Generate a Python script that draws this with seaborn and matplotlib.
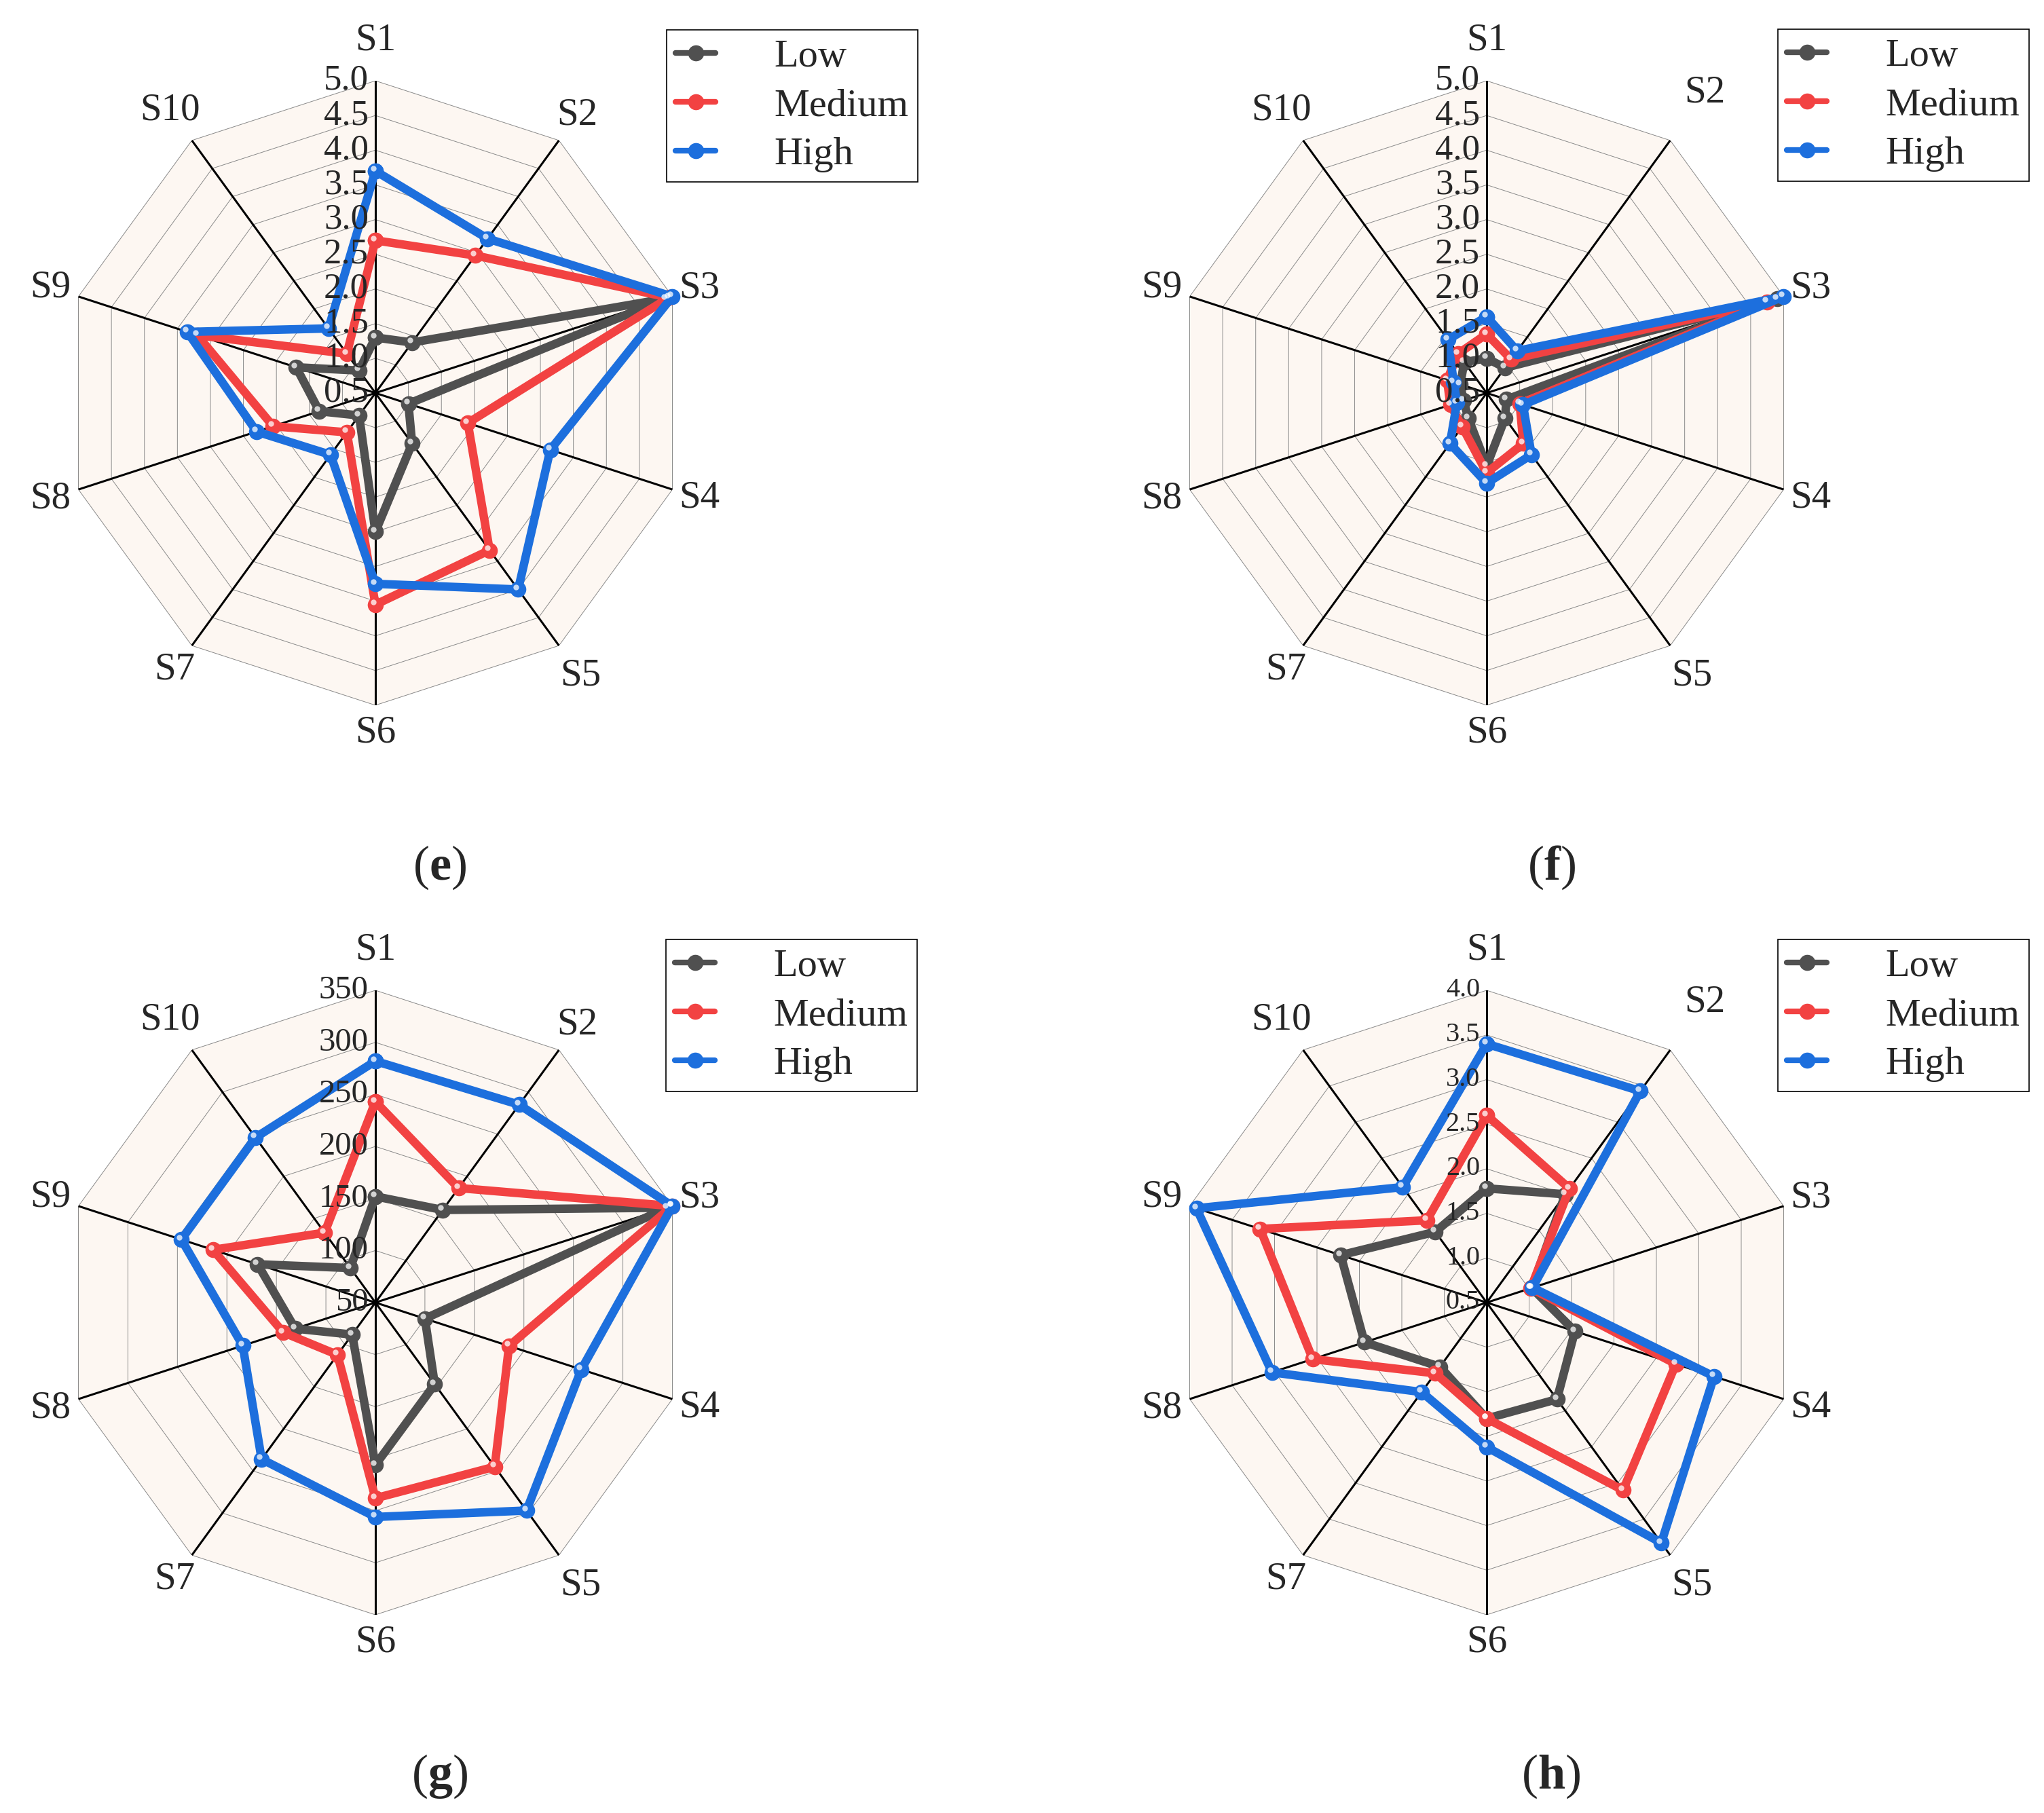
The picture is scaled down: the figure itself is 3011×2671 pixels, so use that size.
import numpy as np
import pandas as pd
import matplotlib
matplotlib.use("Agg")
import matplotlib.pyplot as plt
import matplotlib.transforms as mtransforms
from matplotlib.lines import Line2D
from matplotlib.legend_handler import HandlerTuple
import seaborn as sns

spokes = ["S1", "S2", "S3", "S4", "S5", "S6", "S7", "S8", "S9", "S10"]
levels = ["Low", "Medium", "High"]
colors = {"Low": "#505050", "Medium": "#F24242", "High": "#1D6FDD"}

# panel (e)
e_low = [1.3, 1.4, 4.9, 1.0, 1.4, 2.5, 0.9, 1.35, 1.7, 0.9]
e_med = [2.7, 2.95, 4.95, 1.9, 3.3, 3.55, 1.2, 2.05, 3.2, 1.2]
e_high = [3.7, 3.25, 5.0, 3.15, 4.0, 3.25, 1.6, 2.3, 3.35, 1.65]
e_ticks = [0.5, 1.0, 1.5, 2.0, 2.5, 3.0, 3.5, 4.0, 4.5, 5.0]

# panel (f)
f_low = [1.0, 0.95, 4.9, 0.8, 0.95, 1.55, 0.95, 0.85, 0.9, 1.05]
f_med = [1.35, 1.1, 4.75, 1.0, 1.4, 1.65, 1.1, 1.05, 1.1, 1.2]
f_high = [1.6, 1.25, 5.0, 1.05, 1.6, 1.8, 1.4, 0.95, 1.0, 1.45]
f_ticks = [0.5, 1.0, 1.5, 2.0, 2.5, 3.0, 3.5, 4.0, 4.5, 5.0]

# panel (g)
g_low = [152, 160, 345, 100, 147, 206, 88, 131, 169, 91]
g_med = [243, 186, 350, 185, 245, 238, 112, 143, 214, 133]
g_high = [282, 285, 350, 258, 297, 256, 236, 184, 246, 246]
g_ticks = [50, 100, 150, 200, 250, 300, 350]

# panel (h)
h_low = [1.78, 2.0, 1.03, 1.54, 1.84, 1.8, 1.39, 1.94, 2.22, 1.48]
h_med = [2.6, 2.08, 1.02, 2.73, 3.1, 1.8, 1.48, 2.55, 3.17, 1.64]
h_high = [3.4, 3.43, 1.04, 3.18, 3.83, 2.12, 1.74, 3.03, 3.92, 2.1]
h_ticks = [0.5, 1.0, 1.5, 2.0, 2.5, 3.0, 3.5, 4.0]

# how far out each spoke name sits, as a fraction of the outer radius
label_fac = [1.13, 1.10, 1.09, 1.09, 1.12, 1.087, 1.095, 1.095, 1.093, 1.12]

sns.set_theme(style="white")
plt.rcParams["font.family"] = ["Liberation Serif", "DejaVu Serif"]
plt.rcParams["mathtext.fontset"] = "custom"
plt.rcParams["mathtext.rm"] = "Liberation Serif"
plt.rcParams["mathtext.bf"] = "Liberation Serif:bold"

W, H = 3011, 2671
fig = plt.figure(figsize=(W / 100, H / 100), dpi=100)
fig.patch.set_facecolor("white")

th = np.deg2rad(np.arange(11) * 36.0)


def draw_radar(cx, cy, R, low, med, high, ticks, fmt, tick_fs, legend_at, letter,
               letter_at, s2_fac=None):
    ax = fig.add_axes([(cx - R) / W, (H - cy - R) / H, 2 * R / W, 2 * R / H], projection="polar")
    ax.set_theta_zero_location("N")
    ax.set_theta_direction(-1)
    rmin, rmax = ticks[0], ticks[-1]
    ax.set_ylim(rmin, rmax)
    ax.grid(False)
    ax.set_xticks([])
    ax.set_yticks([])
    ax.spines["polar"].set_visible(False)
    ax.patch.set_visible(False)

    ax.fill(th, [rmax] * 11, color="#FDF7F2", lw=0, zorder=0)
    for t in ticks[1:]:
        ax.plot(th, [t] * 11, color="#8a8a8a", lw=0.7, zorder=1)
    for a in th[:10]:
        ax.plot([a, a], [rmin, rmax], color="black", lw=2.2, zorder=2)

    rows = []
    for lvl, vals in zip(levels, [low, med, high]):
        closed = list(vals) + [vals[0]]
        for a, v in zip(th, closed):
            rows.append({"theta": a, "value": v, "level": lvl})
    df = pd.DataFrame(rows)
    sns.lineplot(data=df, x="theta", y="value", hue="level", hue_order=levels,
                 palette=colors, sort=False, estimator=None, lw=9, marker="o",
                 markersize=17, markeredgewidth=0, legend=False, ax=ax,
                 zorder=3, clip_on=False)
    shine = ax.transData + mtransforms.ScaledTranslation(-0.03, 0.035, fig.dpi_scale_trans)
    for lvl, vals in zip(levels, [low, med, high]):
        ax.plot(th[:10], vals, ls="none", marker="o", ms=6, mew=0, color="white",
                alpha=0.75, transform=shine, zorder=4, clip_on=False)
    ax.set_xlabel("")
    ax.set_ylabel("")

    facs = list(label_fac)
    if s2_fac is not None:
        facs[1] = s2_fac
    for a, s, k in zip(th[:10], spokes, facs):
        ax.text(a, rmin + k * (rmax - rmin), s, ha="center", va="center", fontsize=41)
    lab_tr = ax.transData + mtransforms.ScaledTranslation(-0.1, 0, fig.dpi_scale_trans)
    for t in ticks:
        ax.text(0, t, fmt.format(t), transform=lab_tr, ha="right", va="center",
                fontsize=tick_fs, zorder=5)

    handles = [(Line2D([], [], color=colors[l], lw=6, marker="o", ms=17, mew=0),
                Line2D([], [], ls="none", marker="o", ms=6, mew=0, color="white", alpha=0.75))
               for l in levels]
    leg = ax.legend(handles, levels, handler_map={tuple: HandlerTuple(ndivide=None)},
                    loc="upper left", bbox_to_anchor=(legend_at[0] / W, 1 - legend_at[1] / H),
                    bbox_transform=fig.transFigure, frameon=True, fancybox=False,
                    edgecolor="black", framealpha=1, fontsize=42, handlelength=2.25,
                    handletextpad=0.24, labelspacing=0.33, borderpad=0.23, borderaxespad=0)
    leg.get_frame().set_linewidth(1.2)

    fig.text(letter_at[0] / W, 1 - letter_at[1] / H, "($\\mathbf{" + letter + "}$)",
             ha="center", va="center", fontsize=52)


draw_radar(553, 579, 460, e_low, e_med, e_high, e_ticks, "{:.1f}", 38, (982, 44), "e", (648, 1278))
draw_radar(2190, 579, 460, f_low, f_med, f_high, f_ticks, "{:.1f}", 38, (2619, 43), "f", (2285, 1278),
           s2_fac=1.19)
draw_radar(553, 1919, 460, g_low, g_med, g_high, g_ticks, "{:d}", 35, (981, 1384), "g", (648, 2617))
draw_radar(2190, 1919, 460, h_low, h_med, h_high, h_ticks, "{:.1f}", 29, (2619, 1384), "h", (2285, 2617),
           s2_fac=1.19)

fig.savefig("out.png", dpi=100)
